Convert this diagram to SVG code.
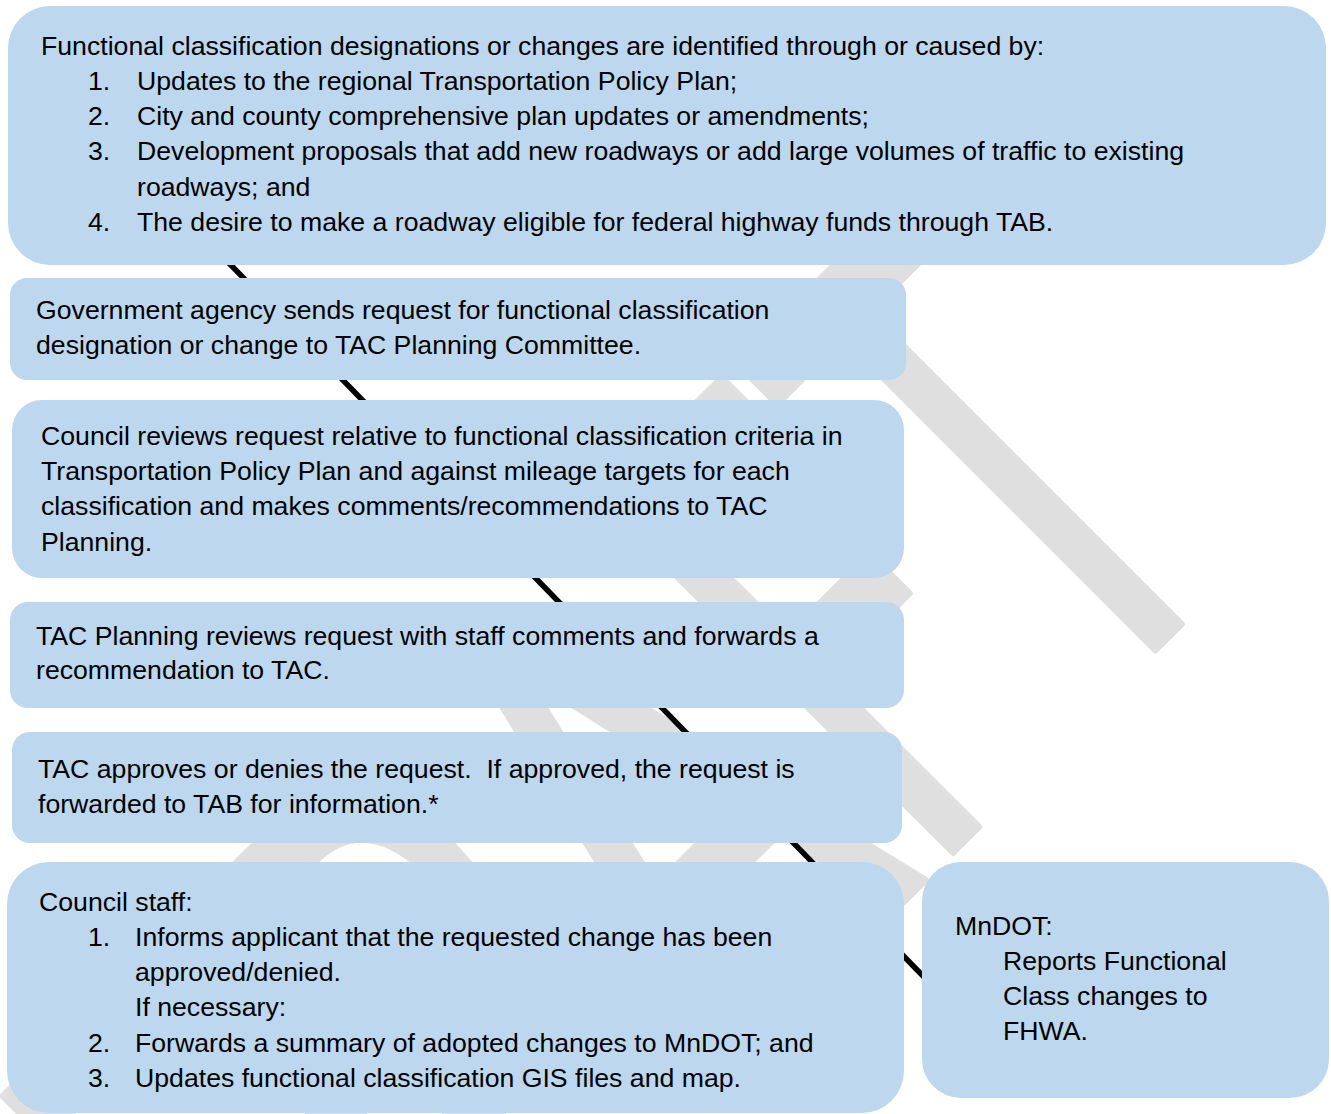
<svg xmlns="http://www.w3.org/2000/svg" width="1331" height="1114" viewBox="0 0 1331 1114">
  <style>
    .box { fill: #bdd7ee; }
    .t { font-family: "Liberation Sans", Arial, sans-serif; font-size: 26.67px; fill: #000; white-space: pre; }
    .wm { font-family: Lato, "Liberation Sans", sans-serif; font-size: 695px; fill: #dfdfdf; stroke: #dfdfdf; stroke-width: 8; stroke-linejoin: round; }
    .link { stroke: #000; stroke-width: 5.5; fill: none; }
  </style>

  <rect width="1331" height="1114" fill="#fff"/>

  <!-- DRAFT watermark, set along a 45-degree baseline -->
  <g id="watermark" transform="rotate(-45)">
    <text class="wm" x="-810" y="1276" textLength="299" lengthAdjust="spacingAndGlyphs">D</text>
    <text class="wm" x="-511" y="1276" textLength="264" lengthAdjust="spacingAndGlyphs">R</text>
    <text class="wm" x="-247" y="1276" textLength="281" lengthAdjust="spacingAndGlyphs">A</text>
    <text class="wm" x="34" y="1276" textLength="223" lengthAdjust="spacingAndGlyphs">F</text>
    <text class="wm" x="257" y="1276" textLength="237" lengthAdjust="spacingAndGlyphs">T</text>
  </g>

  <g id="connectors">
    <line class="link" x1="224" y1="258" x2="924" y2="977"/>
  </g>

  <g id="node-sources">
    <rect class="box" x="8" y="6" width="1318" height="259" rx="42"/>
    <text class="t" x="41" y="55">Functional classification designations or changes are identified through or caused by:</text>
    <text class="t" x="88" y="90">1.</text>
    <text class="t" x="137" y="90">Updates to the regional Transportation Policy Plan;</text>
    <text class="t" x="88" y="125">2.</text>
    <text class="t" x="137" y="125">City and county comprehensive plan updates or amendments;</text>
    <text class="t" x="88" y="160">3.</text>
    <text class="t" x="137" y="160">Development proposals that add new roadways or add large volumes of traffic to existing</text>
    <text class="t" x="137" y="196">roadways; and</text>
    <text class="t" x="88" y="231">4.</text>
    <text class="t" x="137" y="231">The desire to make a roadway eligible for federal highway funds through TAB.</text>
  </g>

  <g id="node-request">
    <rect class="box" x="10" y="278" width="896" height="102" rx="17"/>
    <text class="t" x="36" y="319">Government agency sends request for functional classification</text>
    <text class="t" x="36" y="354">designation or change to TAC Planning Committee.</text>
  </g>

  <g id="node-council-review">
    <rect class="box" x="12" y="400" width="892" height="178" rx="30"/>
    <text class="t" x="41" y="445">Council reviews request relative to functional classification criteria in</text>
    <text class="t" x="41" y="480">Transportation Policy Plan and against mileage targets for each</text>
    <text class="t" x="41" y="515">classification and makes comments/recommendations to TAC</text>
    <text class="t" x="41" y="551">Planning.</text>
  </g>

  <g id="node-tac-planning">
    <rect class="box" x="10" y="602" width="894" height="106" rx="18"/>
    <text class="t" x="36" y="645">TAC Planning reviews request with staff comments and forwards a</text>
    <text class="t" x="36" y="679">recommendation to TAC.</text>
  </g>

  <g id="node-tac">
    <rect class="box" x="12" y="732" width="890" height="111" rx="18"/>
    <text class="t" x="38" y="778">TAC approves or denies the request.  If approved, the request is</text>
    <text class="t" x="38" y="813">forwarded to TAB for information.*</text>
  </g>

  <g id="node-council-staff">
    <rect class="box" x="7" y="862" width="897" height="251" rx="42"/>
    <text class="t" x="39" y="911">Council staff:</text>
    <text class="t" x="88" y="946">1.</text>
    <text class="t" x="135" y="946">Informs applicant that the requested change has been</text>
    <text class="t" x="135" y="981">approved/denied.</text>
    <text class="t" x="135" y="1016">If necessary:</text>
    <text class="t" x="88" y="1052">2.</text>
    <text class="t" x="135" y="1052">Forwards a summary of adopted changes to MnDOT; and</text>
    <text class="t" x="88" y="1087">3.</text>
    <text class="t" x="135" y="1087">Updates functional classification GIS files and map.</text>
  </g>

  <g id="node-mndot">
    <rect class="box" x="922" y="862" width="407" height="236" rx="39"/>
    <text class="t" x="955" y="935">MnDOT:</text>
    <text class="t" x="1003" y="970">Reports Functional</text>
    <text class="t" x="1003" y="1005">Class changes to</text>
    <text class="t" x="1003" y="1040">FHWA.</text>
  </g>
</svg>
